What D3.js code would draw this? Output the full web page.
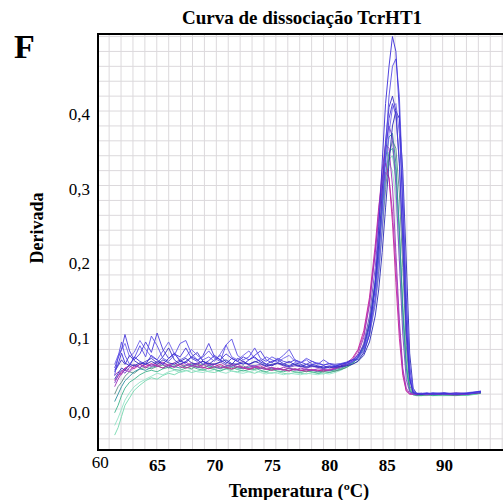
<!DOCTYPE html>
<html><head><meta charset="utf-8">
<script src="https://cdn.jsdelivr.net/npm/d3@7"></script>
<style>html,body{margin:0;padding:0;background:#fff;overflow:hidden}</style>
</head><body>
<svg id="chart" width="503" height="500"></svg>
<script>
// ---------- DATA ----------
const temps = [61.3, 61.6, 61.9, 62.2, 62.6, 63.0, 63.5, 64.0,
  64.5, 65.0, 65.5, 66.0, 66.5, 67.0, 67.5, 68.0, 68.5, 69.0, 69.5, 70.0, 70.5, 71.0, 71.5, 72.0, 72.5, 73.0, 73.5, 74.0, 74.5, 75.0, 75.5, 76.0, 76.5, 77.0, 77.5, 78.0, 78.5, 79.0, 79.5, 80.0, 80.5, 81.0, 81.5, 82.0,
  82.5, 83.0, 83.5, 84.0, 84.3, 84.6, 84.9, 85.2, 85.5, 85.8, 86.1, 86.4, 86.7, 87.0, 87.3, 87.6,
  88.0, 88.5, 89.0, 90.0, 91.0, 92.0, 93.2];

const c01 = [0.052, 0.060, 0.075, 0.062, 0.058, 0.070, 0.064, 0.060,
  0.072, 0.066, 0.060, 0.068, 0.075, 0.064, 0.062, 0.070, 0.066, 0.060, 0.065, 0.072, 0.066, 0.061, 0.068, 0.064, 0.060, 0.066, 0.070, 0.063, 0.060, 0.064, 0.066, 0.061, 0.058, 0.062, 0.060, 0.057, 0.060, 0.058, 0.056, 0.058, 0.057, 0.060, 0.062, 0.066,
  0.066, 0.075, 0.100, 0.170, 0.240, 0.330, 0.410, 0.460, 0.500, 0.480, 0.400, 0.260, 0.120, 0.040, 0.022, 0.021,
  0.020, 0.021, 0.020, 0.021, 0.020, 0.021, 0.024];
const c02 = [0.045, 0.070, 0.090, 0.072, 0.060, 0.068, 0.085, 0.070,
  0.098, 0.085, 0.068, 0.064, 0.072, 0.088, 0.092, 0.074, 0.066, 0.070, 0.078, 0.068, 0.064, 0.086, 0.094, 0.072, 0.066, 0.070, 0.082, 0.068, 0.064, 0.070, 0.066, 0.072, 0.080, 0.066, 0.062, 0.068, 0.064, 0.060, 0.066, 0.061, 0.058, 0.060, 0.062, 0.064,
  0.070, 0.080, 0.105, 0.150, 0.200, 0.270, 0.350, 0.420, 0.460, 0.470, 0.420, 0.300, 0.150, 0.055, 0.024, 0.021,
  0.021, 0.020, 0.022, 0.020, 0.021, 0.020, 0.023];
const c03 = [0.050, 0.058, 0.066, 0.060, 0.072, 0.065, 0.060, 0.064,
  0.068, 0.062, 0.070, 0.082, 0.066, 0.060, 0.064, 0.070, 0.076, 0.064, 0.060, 0.066, 0.072, 0.063, 0.060, 0.068, 0.064, 0.060, 0.063, 0.066, 0.060, 0.058, 0.062, 0.060, 0.064, 0.059, 0.057, 0.060, 0.058, 0.056, 0.058, 0.055, 0.057, 0.058, 0.060, 0.063,
  0.070, 0.085, 0.115, 0.170, 0.220, 0.290, 0.360, 0.405, 0.420, 0.400, 0.330, 0.220, 0.100, 0.040, 0.022, 0.020,
  0.020, 0.021, 0.020, 0.021, 0.021, 0.020, 0.023];
const c04 = [0.060, 0.072, 0.080, 0.088, 0.070, 0.076, 0.092, 0.080,
  0.070, 0.066, 0.078, 0.090, 0.074, 0.066, 0.070, 0.080, 0.072, 0.066, 0.070, 0.064, 0.074, 0.086, 0.070, 0.066, 0.072, 0.078, 0.068, 0.064, 0.070, 0.066, 0.063, 0.068, 0.072, 0.064, 0.062, 0.066, 0.060, 0.062, 0.059, 0.061, 0.058, 0.060, 0.061, 0.063,
  0.068, 0.078, 0.100, 0.140, 0.180, 0.240, 0.310, 0.370, 0.405, 0.410, 0.370, 0.280, 0.150, 0.060, 0.025, 0.021,
  0.021, 0.022, 0.020, 0.021, 0.020, 0.022, 0.024];
const c05 = [0.040, 0.048, 0.055, 0.052, 0.060, 0.058, 0.062, 0.060,
  0.064, 0.060, 0.066, 0.062, 0.060, 0.064, 0.068, 0.062, 0.060, 0.064, 0.061, 0.060, 0.063, 0.066, 0.061, 0.060, 0.062, 0.060, 0.064, 0.061, 0.058, 0.060, 0.062, 0.059, 0.057, 0.060, 0.058, 0.056, 0.058, 0.057, 0.055, 0.057, 0.056, 0.057, 0.058, 0.060,
  0.064, 0.072, 0.090, 0.125, 0.160, 0.210, 0.270, 0.330, 0.380, 0.400, 0.390, 0.320, 0.200, 0.075, 0.028, 0.021,
  0.020, 0.021, 0.021, 0.020, 0.021, 0.021, 0.022];
const c06 = [0.035, 0.045, 0.052, 0.048, 0.056, 0.060, 0.055, 0.062,
  0.058, 0.064, 0.060, 0.056, 0.062, 0.066, 0.060, 0.058, 0.062, 0.064, 0.058, 0.060, 0.063, 0.059, 0.057, 0.061, 0.064, 0.059, 0.058, 0.060, 0.057, 0.059, 0.061, 0.058, 0.056, 0.058, 0.057, 0.055, 0.057, 0.056, 0.054, 0.056, 0.055, 0.057, 0.059, 0.063,
  0.070, 0.088, 0.125, 0.190, 0.245, 0.305, 0.355, 0.380, 0.365, 0.300, 0.200, 0.100, 0.040, 0.023, 0.020, 0.020,
  0.021, 0.020, 0.021, 0.020, 0.022, 0.021, 0.023];
const c07 = [0.030, 0.040, 0.048, 0.052, 0.050, 0.056, 0.060, 0.055,
  0.060, 0.057, 0.062, 0.059, 0.056, 0.060, 0.063, 0.058, 0.056, 0.059, 0.062, 0.057, 0.055, 0.058, 0.060, 0.057, 0.055, 0.058, 0.056, 0.054, 0.057, 0.055, 0.053, 0.056, 0.054, 0.052, 0.055, 0.053, 0.052, 0.054, 0.053, 0.052, 0.054, 0.056, 0.059, 0.064,
  0.074, 0.096, 0.140, 0.210, 0.265, 0.320, 0.355, 0.350, 0.300, 0.210, 0.120, 0.055, 0.028, 0.021, 0.020, 0.020,
  0.020, 0.021, 0.020, 0.021, 0.020, 0.021, 0.023];
const c08 = [0.038, 0.044, 0.050, 0.055, 0.058, 0.054, 0.060, 0.057,
  0.061, 0.058, 0.055, 0.059, 0.062, 0.057, 0.055, 0.058, 0.061, 0.056, 0.054, 0.057, 0.060, 0.056, 0.054, 0.057, 0.055, 0.053, 0.056, 0.058, 0.054, 0.052, 0.055, 0.053, 0.051, 0.054, 0.052, 0.051, 0.053, 0.052, 0.051, 0.053, 0.055, 0.058, 0.062, 0.068,
  0.080, 0.105, 0.150, 0.220, 0.270, 0.310, 0.330, 0.310, 0.250, 0.170, 0.095, 0.045, 0.024, 0.020, 0.020, 0.019,
  0.020, 0.019, 0.020, 0.020, 0.019, 0.020, 0.022];
const c09 = [0.045, 0.050, 0.046, 0.055, 0.052, 0.058, 0.056, 0.060,
  0.057, 0.060, 0.063, 0.058, 0.056, 0.060, 0.058, 0.062, 0.057, 0.055, 0.059, 0.061, 0.056, 0.055, 0.058, 0.060, 0.056, 0.054, 0.057, 0.055, 0.053, 0.056, 0.054, 0.052, 0.055, 0.053, 0.052, 0.054, 0.052, 0.051, 0.053, 0.052, 0.054, 0.057, 0.061, 0.066,
  0.078, 0.100, 0.145, 0.210, 0.255, 0.295, 0.318, 0.310, 0.265, 0.190, 0.110, 0.050, 0.025, 0.020, 0.020, 0.020,
  0.021, 0.020, 0.020, 0.021, 0.020, 0.020, 0.023];
const c10 = [0.010, 0.020, 0.030, 0.038, 0.044, 0.050, 0.054, 0.052,
  0.056, 0.058, 0.055, 0.059, 0.057, 0.055, 0.058, 0.060, 0.056, 0.055, 0.058, 0.056, 0.054, 0.057, 0.059, 0.055, 0.054, 0.056, 0.058, 0.055, 0.053, 0.055, 0.054, 0.052, 0.055, 0.053, 0.051, 0.053, 0.052, 0.050, 0.052, 0.051, 0.053, 0.055, 0.058, 0.062,
  0.068, 0.082, 0.115, 0.170, 0.220, 0.280, 0.335, 0.365, 0.370, 0.330, 0.240, 0.130, 0.055, 0.025, 0.020, 0.019,
  0.019, 0.020, 0.019, 0.020, 0.019, 0.020, 0.022];
const c11 = [-0.005, 0.005, 0.018, 0.028, 0.036, 0.040, 0.046, 0.050,
  0.052, 0.050, 0.054, 0.056, 0.053, 0.052, 0.055, 0.057, 0.054, 0.052, 0.055, 0.053, 0.051, 0.054, 0.056, 0.053, 0.051, 0.053, 0.055, 0.052, 0.050, 0.053, 0.051, 0.050, 0.052, 0.050, 0.049, 0.051, 0.050, 0.048, 0.050, 0.049, 0.051, 0.053, 0.056, 0.061,
  0.068, 0.082, 0.112, 0.165, 0.210, 0.265, 0.315, 0.345, 0.350, 0.320, 0.240, 0.135, 0.060, 0.026, 0.019, 0.018,
  0.018, 0.019, 0.018, 0.019, 0.018, 0.019, 0.021];
const c12 = [-0.035, -0.025, -0.010, 0.005, 0.015, 0.025, 0.032, 0.038,
  0.042, 0.040, 0.045, 0.048, 0.046, 0.050, 0.052, 0.049, 0.051, 0.053, 0.050, 0.049, 0.052, 0.054, 0.051, 0.050, 0.052, 0.050, 0.048, 0.051, 0.049, 0.048, 0.050, 0.048, 0.047, 0.049, 0.048, 0.047, 0.049, 0.048, 0.047, 0.049, 0.051, 0.054, 0.058, 0.062,
  0.070, 0.086, 0.118, 0.170, 0.215, 0.265, 0.310, 0.335, 0.340, 0.310, 0.235, 0.140, 0.065, 0.028, 0.020, 0.019,
  0.018, 0.019, 0.018, 0.018, 0.019, 0.018, 0.021];
const c13 = [-0.022, -0.012, 0.000, 0.012, 0.022, 0.030, 0.036, 0.040,
  0.044, 0.048, 0.046, 0.050, 0.052, 0.049, 0.051, 0.053, 0.050, 0.049, 0.051, 0.053, 0.050, 0.048, 0.051, 0.049, 0.048, 0.050, 0.052, 0.049, 0.047, 0.049, 0.048, 0.046, 0.048, 0.047, 0.046, 0.048, 0.047, 0.046, 0.048, 0.047, 0.049, 0.052, 0.056, 0.061,
  0.070, 0.088, 0.122, 0.175, 0.220, 0.270, 0.315, 0.330, 0.320, 0.280, 0.200, 0.110, 0.050, 0.024, 0.019, 0.018,
  0.018, 0.018, 0.019, 0.018, 0.018, 0.019, 0.021];
const c14 = [0.020, 0.030, 0.036, 0.044, 0.050, 0.048, 0.054, 0.056,
  0.054, 0.057, 0.059, 0.055, 0.058, 0.060, 0.056, 0.054, 0.058, 0.060, 0.056, 0.055, 0.058, 0.055, 0.053, 0.056, 0.058, 0.054, 0.053, 0.056, 0.054, 0.052, 0.054, 0.053, 0.051, 0.054, 0.052, 0.050, 0.052, 0.051, 0.050, 0.052, 0.051, 0.053, 0.056, 0.060,
  0.064, 0.076, 0.100, 0.145, 0.185, 0.240, 0.295, 0.340, 0.360, 0.350, 0.290, 0.190, 0.085, 0.032, 0.020, 0.019,
  0.019, 0.019, 0.020, 0.019, 0.019, 0.020, 0.022];
const c15 = [0.055, 0.068, 0.080, 0.100, 0.078, 0.066, 0.074, 0.090,
  0.076, 0.102, 0.080, 0.068, 0.074, 0.070, 0.082, 0.068, 0.064, 0.072, 0.088, 0.070, 0.066, 0.074, 0.068, 0.064, 0.070, 0.066, 0.072, 0.078, 0.066, 0.062, 0.068, 0.064, 0.062, 0.066, 0.063, 0.060, 0.064, 0.061, 0.059, 0.061, 0.060, 0.061, 0.063, 0.066,
  0.072, 0.084, 0.110, 0.160, 0.205, 0.270, 0.340, 0.390, 0.410, 0.395, 0.330, 0.230, 0.110, 0.045, 0.022, 0.021,
  0.021, 0.020, 0.021, 0.022, 0.020, 0.021, 0.023];

// drawing order (back to front) and colours
const seriesList   = [c12, c13, c11, c14, c10, c09, c08, c07, c06, c05, c03, c04, c15, c02, c01];
const seriesColors = ["#74d8ae", "#95e3c8", "#3fb48d", "#5e8f84", "#2f909f", "#b244b2", "#c61f9e", "#9d32ba", "#7a46cc", "#2b2bb6", "#3b30c2", "#7062ea", "#4a3bd9", "#5b4fe6", "#3d2fd8"];

const xTickValues = [60, 65, 70, 75, 80, 85, 90];
const yTickValues = [0, 0.1, 0.2, 0.3, 0.4];
const titleText = "Curva de dissociação TcrHT1";
const xTitle = "Temperatura (ºC)";
const yTitle = "Derivada";
const panelLetter = "F";

// ---------- CHECK ----------
seriesList.forEach((s, i) => { if (s.length !== temps.length) throw new Error("series " + i + " length " + s.length + " != " + temps.length); });

// ---------- CHART ----------
const serif = "'Liberation Serif', 'Times New Roman', Times, serif";
const svg = d3.select("#chart");
const L = 98, R = 513, T = 34, B = 450;
const x = d3.scaleLinear().domain([59.85, 96]).range([L, R]);
const y = d3.scaleLinear().domain([-0.055, 0.5034]).range([B, T]);

svg.append("defs").append("clipPath").attr("id", "plotclip")
  .append("rect").attr("x", L).attr("y", T).attr("width", R - L).attr("height", B - T);

// grid
const grid = svg.append("g").attr("clip-path", "url(#plotclip)");
const gridTemps = d3.range(60.82, 96, 1.0375);
const gridVals = d3.range(-0.04, 0.51, 0.02);
grid.selectAll("line.gv").data(gridTemps).join("line")
  .attr("x1", d => x(d)).attr("x2", d => x(d)).attr("y1", T).attr("y2", B)
  .attr("stroke", "#dcd9dc").attr("stroke-width", 1);
grid.selectAll("line.gh").data(gridVals).join("line")
  .attr("x1", L).attr("x2", R).attr("y1", d => y(d)).attr("y2", d => y(d))
  .attr("stroke", "#dcd9dc").attr("stroke-width", 1);

// curves
const line = d3.line().x((d, i) => x(temps[i])).y(d => y(d));
svg.append("g").attr("clip-path", "url(#plotclip)")
  .selectAll("path").data(seriesList).join("path")
  .attr("d", line)
  .attr("fill", "none")
  .attr("stroke", (d, i) => seriesColors[i])
  .attr("stroke-width", 1)
  .attr("stroke-opacity", 0.9)
  .attr("stroke-linejoin", "round");

// frame
svg.append("line").attr("x1", L).attr("x2", L).attr("y1", T - 1).attr("y2", B + 1).attr("stroke", "#000").attr("stroke-width", 2);
svg.append("line").attr("x1", L - 1).attr("x2", 503).attr("y1", T).attr("y2", T).attr("stroke", "#000").attr("stroke-width", 2);
svg.append("line").attr("x1", L - 1).attr("x2", 503).attr("y1", B).attr("y2", B).attr("stroke", "#000").attr("stroke-width", 2);

// axes
const xAxis = svg.append("g").attr("transform", `translate(0,${B})`)
  .call(d3.axisBottom(x).tickValues(xTickValues).tickSize(0).tickPadding(9).tickFormat(d3.format("d")));
xAxis.select(".domain").remove();
xAxis.selectAll("text")
  .attr("font-family", serif).attr("font-size", 17).attr("fill", "#000")
  .attr("font-weight", d => d === 60 ? "normal" : "bold")
  .attr("dy", d => d === 60 ? "0.55em" : "0.71em");

const yAxis = svg.append("g").attr("transform", `translate(${L},0)`)
  .call(d3.axisLeft(y).tickValues(yTickValues).tickSize(0).tickPadding(8)
    .tickFormat(d => d3.format(".1f")(d).replace(".", ",")));
yAxis.select(".domain").remove();
yAxis.selectAll("text")
  .attr("font-family", serif).attr("font-size", 17).attr("fill", "#000")
  .attr("dy", "0.52em");

// titles
svg.append("text").attr("x", 302).attr("y", 24).attr("text-anchor", "middle")
  .attr("font-family", serif).attr("font-weight", "bold").attr("font-size", 19)
  .text(titleText);
svg.append("text").attr("x", 299).attr("y", 497).attr("text-anchor", "middle")
  .attr("font-family", serif).attr("font-weight", "bold").attr("font-size", 18.5)
  .text(xTitle);
svg.append("text").attr("transform", "translate(43,228) rotate(-90)").attr("text-anchor", "middle")
  .attr("font-family", serif).attr("font-weight", "bold").attr("font-size", 18)
  .text(yTitle);
svg.append("text").attr("x", 14).attr("y", 58)
  .attr("font-family", serif).attr("font-weight", "bold").attr("font-size", 34)
  .text(panelLetter);
</script>
</body></html>
